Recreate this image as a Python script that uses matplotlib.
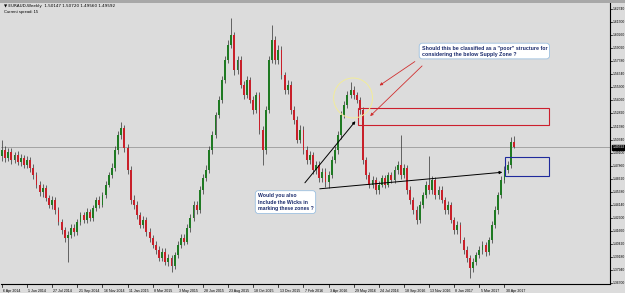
import matplotlib
matplotlib.use("Agg")
import matplotlib.pyplot as plt
from matplotlib.patches import Rectangle, Ellipse

# weekly EURAUD candles (bar 0 = 6 Apr 2014)
opens = [1.4880, 1.4935, 1.4859, 1.4916, 1.4840, 1.4888, 1.4821, 1.4859, 1.4793, 1.4840,
         1.4764, 1.4698, 1.4603, 1.4536, 1.4574, 1.4479, 1.4413, 1.4460, 1.4365, 1.4251,
         1.4175, 1.4099, 1.4128, 1.4194, 1.4156, 1.4251, 1.4318, 1.4270, 1.4346, 1.4289,
         1.4384, 1.4460, 1.4413, 1.4508, 1.4603, 1.4698, 1.4764, 1.4935, 1.5078, 1.5144,
         1.4954, 1.4745, 1.4460, 1.4413, 1.4318, 1.4223, 1.4270, 1.4156, 1.4099, 1.4033,
         1.3985, 1.3909, 1.3966, 1.3871, 1.3909, 1.3833, 1.3938, 1.4033, 1.4099, 1.4061,
         1.4194, 1.4289, 1.4413, 1.4365, 1.4555, 1.4669, 1.4745, 1.4935, 1.5078, 1.5268,
         1.5410, 1.5600, 1.5790, 1.5933, 1.6028, 1.5695, 1.5790, 1.5553, 1.5458, 1.5600,
         1.5410, 1.5315, 1.5458, 1.5125, 1.4935, 1.5315, 1.5790, 1.5980, 1.5790, 1.5885,
         1.5648, 1.5505, 1.5553, 1.5315, 1.5220, 1.5030, 1.5125, 1.4935, 1.4840, 1.4888,
         1.4745, 1.4793, 1.4669, 1.4726, 1.4631, 1.4698, 1.4840, 1.4935, 1.5078, 1.5268,
         1.5363, 1.5458, 1.5505, 1.5458, 1.5410, 1.5315, 1.4840, 1.4698, 1.4603, 1.4650,
         1.4555, 1.4603, 1.4669, 1.4603, 1.4698, 1.4650, 1.4745, 1.4793, 1.4698, 1.4764,
         1.4555, 1.4460, 1.4365, 1.4270, 1.4413, 1.4508, 1.4603, 1.4555, 1.4650, 1.4508,
         1.4555, 1.4460, 1.4365, 1.4413, 1.4270, 1.4175, 1.4223, 1.4080, 1.3985, 1.3909,
         1.3814, 1.3871, 1.3938, 1.3985, 1.4033, 1.3966, 1.4080, 1.4223, 1.4365, 1.4508,
         1.4650, 1.4745, 1.4793, 1.50147]
highs = [1.5030, 1.4970, 1.4950, 1.4950, 1.4920, 1.4930, 1.4900, 1.4890, 1.4880, 1.4870,
         1.4800, 1.4730, 1.4640, 1.4610, 1.4600, 1.4510, 1.4500, 1.4490, 1.4390, 1.4280,
         1.4200, 1.4170, 1.4230, 1.4230, 1.4280, 1.4350, 1.4350, 1.4380, 1.4370, 1.4410,
         1.4490, 1.4500, 1.4540, 1.4640, 1.4730, 1.4810, 1.4970, 1.5120, 1.5200, 1.5170,
         1.4990, 1.4780, 1.4510, 1.4450, 1.4350, 1.4310, 1.4300, 1.4190, 1.4130, 1.4070,
         1.4020, 1.4000, 1.4000, 1.3950, 1.3940, 1.3970, 1.4070, 1.4140, 1.4140, 1.4230,
         1.4330, 1.4450, 1.4450, 1.4590, 1.4710, 1.4790, 1.4970, 1.5120, 1.5300, 1.5450,
         1.5640, 1.5830, 1.5980, 1.6189, 1.6060, 1.5830, 1.5830, 1.5590, 1.5640, 1.5630,
         1.5450, 1.5490, 1.5490, 1.5160, 1.5350, 1.5830, 1.6123, 1.6020, 1.5930, 1.5920,
         1.5680, 1.5600, 1.5590, 1.5350, 1.5260, 1.5170, 1.5160, 1.4970, 1.4930, 1.4920,
         1.4830, 1.4830, 1.4760, 1.4760, 1.4740, 1.4880, 1.4970, 1.5120, 1.5310, 1.5400,
         1.5500, 1.5581, 1.5540, 1.5490, 1.5440, 1.5340, 1.4870, 1.4730, 1.4690, 1.4680,
         1.4640, 1.4700, 1.4700, 1.4730, 1.4730, 1.4780, 1.4830, 1.5078, 1.4800, 1.4790,
         1.4590, 1.4490, 1.4400, 1.4450, 1.4540, 1.4640, 1.4878, 1.4690, 1.4680, 1.4590,
         1.4590, 1.4490, 1.4450, 1.4440, 1.4300, 1.4260, 1.4250, 1.4110, 1.4020, 1.3940,
         1.3910, 1.3970, 1.4020, 1.4070, 1.4060, 1.4110, 1.4260, 1.4400, 1.4540, 1.4690,
         1.4780, 1.4830, 1.5058, 1.50720]
lows = [1.4830, 1.4820, 1.4830, 1.4800, 1.4810, 1.4790, 1.4780, 1.4760, 1.4760, 1.4730,
        1.4660, 1.4570, 1.4500, 1.4490, 1.4450, 1.4380, 1.4370, 1.4330, 1.4220, 1.4140,
        1.4060, 1.3871, 1.4100, 1.4120, 1.4130, 1.4220, 1.4240, 1.4240, 1.4260, 1.4260,
        1.4360, 1.4380, 1.4390, 1.4480, 1.4580, 1.4670, 1.4740, 1.4900, 1.5040, 1.4920,
        1.4710, 1.4420, 1.4370, 1.4280, 1.4190, 1.4190, 1.4120, 1.4060, 1.4000, 1.3950,
        1.3880, 1.3880, 1.3840, 1.3830, 1.3776, 1.3800, 1.3910, 1.4000, 1.4030, 1.4040,
        1.4160, 1.4260, 1.4330, 1.4340, 1.4520, 1.4640, 1.4720, 1.4900, 1.5050, 1.5240,
        1.5380, 1.5570, 1.5760, 1.5900, 1.5650, 1.5660, 1.5520, 1.5420, 1.5430, 1.5380,
        1.5280, 1.5290, 1.5090, 1.4793, 1.4900, 1.5290, 1.5760, 1.5750, 1.5750, 1.5610,
        1.5470, 1.5470, 1.5280, 1.5180, 1.5000, 1.5000, 1.4900, 1.4800, 1.4800, 1.4710,
        1.4710, 1.4630, 1.4630, 1.4580, 1.4570, 1.4670, 1.4810, 1.4900, 1.5040, 1.5240,
        1.5330, 1.5430, 1.5420, 1.5380, 1.5280, 1.4800, 1.4660, 1.4570, 1.4570, 1.4520,
        1.4520, 1.4580, 1.4570, 1.4580, 1.4620, 1.4620, 1.4710, 1.4660, 1.4670, 1.4520,
        1.4420, 1.4330, 1.4230, 1.4240, 1.4380, 1.4480, 1.4520, 1.4520, 1.4470, 1.4470,
        1.4430, 1.4330, 1.4330, 1.4240, 1.4140, 1.4140, 1.4050, 1.3950, 1.3870, 1.3719,
        1.3780, 1.3840, 1.3910, 1.3950, 1.3930, 1.3940, 1.4050, 1.4190, 1.4330, 1.4480,
        1.4620, 1.4720, 1.4760, 1.49560]
closes = [1.4935, 1.4859, 1.4916, 1.4840, 1.4888, 1.4821, 1.4859, 1.4793, 1.4840, 1.4764,
          1.4698, 1.4603, 1.4536, 1.4574, 1.4479, 1.4413, 1.4460, 1.4365, 1.4251, 1.4175,
          1.4099, 1.4128, 1.4194, 1.4156, 1.4251, 1.4318, 1.4270, 1.4346, 1.4289, 1.4384,
          1.4460, 1.4413, 1.4508, 1.4603, 1.4698, 1.4764, 1.4935, 1.5078, 1.5144, 1.4954,
          1.4745, 1.4460, 1.4413, 1.4318, 1.4223, 1.4270, 1.4156, 1.4099, 1.4033, 1.3985,
          1.3909, 1.3966, 1.3871, 1.3909, 1.3833, 1.3938, 1.4033, 1.4099, 1.4061, 1.4194,
          1.4289, 1.4413, 1.4365, 1.4555, 1.4669, 1.4745, 1.4935, 1.5078, 1.5268, 1.5410,
          1.5600, 1.5790, 1.5933, 1.6028, 1.5695, 1.5790, 1.5553, 1.5458, 1.5600, 1.5410,
          1.5315, 1.5458, 1.5125, 1.4935, 1.5315, 1.5790, 1.5980, 1.5790, 1.5885, 1.5648,
          1.5505, 1.5553, 1.5315, 1.5220, 1.5030, 1.5125, 1.4935, 1.4840, 1.4888, 1.4745,
          1.4793, 1.4669, 1.4726, 1.4631, 1.4698, 1.4840, 1.4935, 1.5078, 1.5268, 1.5363,
          1.5458, 1.5505, 1.5458, 1.5410, 1.5315, 1.4840, 1.4698, 1.4603, 1.4650, 1.4555,
          1.4603, 1.4669, 1.4603, 1.4698, 1.4650, 1.4745, 1.4793, 1.4698, 1.4764, 1.4555,
          1.4460, 1.4365, 1.4270, 1.4413, 1.4508, 1.4603, 1.4555, 1.4650, 1.4508, 1.4555,
          1.4460, 1.4365, 1.4413, 1.4270, 1.4175, 1.4223, 1.4080, 1.3985, 1.3909, 1.3814,
          1.3871, 1.3938, 1.3985, 1.4033, 1.3966, 1.4080, 1.4223, 1.4365, 1.4508, 1.4650,
          1.4745, 1.4793, 1.5010, 1.49592]

date_labels = ["6 Apr 2014", "1 Jun 2014", "27 Jul 2014", "21 Sep 2014", "16 Nov 2014",
               "11 Jan 2015", "8 Mar 2015", "3 May 2015", "28 Jun 2015", "23 Aug 2015",
               "18 Oct 2015", "13 Dec 2015", "7 Feb 2016", "3 Apr 2016", "29 May 2016",
               "24 Jul 2016", "18 Sep 2016", "13 Nov 2016", "8 Jan 2017", "5 Mar 2017",
               "30 Apr 2017"]
price_ticks = [1.36700, 1.37940, 1.39180, 1.40420, 1.41660, 1.42900, 1.44140, 1.45380,
               1.46620, 1.47860, 1.49100, 1.50340, 1.51580, 1.52820, 1.54060, 1.55300,
               1.56540, 1.57780, 1.59020, 1.60260, 1.61500, 1.62740]
last_price = 1.49592

bg = "#dcdcdc"
up_col = "#1f7a23"
dn_col = "#c8202a"
font = "Liberation Sans"

fig = plt.figure(figsize=(6.25, 2.93), dpi=100, facecolor=bg)
ax = fig.add_axes([0.0016, 0.0307, 0.9744, 0.9591], facecolor=bg)
ax.set_xlim(-0.3, 193.6)
ax.set_ylim(1.3662, 1.63315)

# candles
for i in range(len(closes)):
    o, h, l, c = opens[i], highs[i], lows[i], closes[i]
    col = up_col if c >= o else dn_col
    ax.vlines(i, l, h, color="#303030", lw=0.5, zorder=2)
    ax.bar(i, max(abs(c - o), 0.0006), bottom=min(o, c), width=0.6,
           color=col, edgecolor="none", zorder=3)

# current price line
ax.axhline(last_price, color="#9a9a9a", lw=0.6, zorder=1)

# frame: only right and bottom axis lines like MT4
for s in ["top", "left"]:
    ax.spines[s].set_visible(False)
for s in ["right", "bottom"]:
    ax.spines[s].set_color("black")
    ax.spines[s].set_linewidth(0.8)
ax.set_xticks([])
ax.set_yticks([])

# price scale on the right
ytr = ax.get_yaxis_transform()
for p in price_ticks:
    ax.plot([1.0, 1.004], [p, p], transform=ytr, color="black", lw=0.5, clip_on=False)
    ax.text(1.0045, p, "%.5f" % p, transform=ytr, fontsize=2.45, family=font,
            va="center", ha="left", clip_on=False)
ax.text(1.0045, last_price, "1.49592", transform=ytr, fontsize=2.45, family=font,
        va="center", ha="left", color="white", clip_on=False,
        bbox=dict(boxstyle="square,pad=0.2", fc="black", ec="black"))

# date scale
xtr = ax.get_xaxis_transform()
for k, lab in enumerate(date_labels):
    xi = k * 8
    ax.plot([xi, xi], [0, -0.012], transform=xtr, color="black", lw=0.5, clip_on=False)
    ax.text(xi + 0.4, -0.018, lab, transform=xtr, fontsize=2.6, family=font,
            va="top", ha="left", clip_on=False)

# header
fig.patches.append(Rectangle((0, 0.99), 1, 0.01, transform=fig.transFigure,
                             fc="#a8a8a8", ec="none"))
fig.text(0.006, 0.978, "\u25bc EURAUD,Weekly  1.50147 1.50720 1.49560 1.49592",
         fontsize=3.0, family=["DejaVu Sans"], va="center", ha="left")
fig.text(0.006, 0.958, "Current spread: 15", fontsize=3.0, family=font,
         va="center", ha="left")

# supply zone and demand zone boxes
ax.add_patch(Rectangle((113.4, 1.5173), 60.8, 0.0161, fill=False,
                       ec="#cc1f2d", lw=0.8, zorder=4))
ax.add_patch(Rectangle((160.2, 1.4688), 14.0, 0.0181, fill=False,
                       ec="#1f2a9c", lw=0.8, zorder=4))
ax.add_patch(Ellipse((111.8, 1.5429), 12.4, 0.038, fill=False,
                     ec="#f2ec9a", lw=0.7, zorder=4))

# black arrows
ax.annotate("", xy=(113.1, 1.5229), xytext=(95.9, 1.4603),
            arrowprops=dict(arrowstyle="-|>", color="black", lw=0.7,
                            mutation_scale=4), zorder=5)
ax.annotate("", xy=(160.2, 1.4726), xytext=(100.3, 1.4564),
            arrowprops=dict(arrowstyle="-|>", color="black", lw=0.7,
                            mutation_scale=4), zorder=5)
# red arrows
ax.annotate("", xy=(119.5, 1.5533), xytext=(132.2, 1.5790),
            arrowprops=dict(arrowstyle="-|>", color="#d03030", lw=0.6,
                            mutation_scale=4), zorder=5)
ax.annotate("", xy=(116.6, 1.5239), xytext=(134.4, 1.5752),
            arrowprops=dict(arrowstyle="-|>", color="#d03030", lw=0.6,
                            mutation_scale=4), zorder=5)

# callout boxes
ax.text(133.6, 1.5875,
        'Should this be classified as a "poor" structure for\nconsidering the below Supply Zone ?',
        fontsize=3.75, family=font, weight="bold", color="#1a2a6c",
        va="center", ha="left", linespacing=1.25, zorder=6,
        bbox=dict(boxstyle="round,pad=0.45,rounding_size=0.6",
                  fc="white", ec="#9cc0e0", lw=0.6))
ax.text(81.4, 1.4440,
        "Would you also\nInclude the Wicks in\nmarking these zones ?",
        fontsize=3.7, family=font, weight="bold", color="#1a2a6c",
        va="center", ha="left", linespacing=1.4, zorder=6,
        bbox=dict(boxstyle="round,pad=0.45,rounding_size=0.6",
                  fc="white", ec="#9cc0e0", lw=0.6))

fig.savefig("out.png", dpi=100, facecolor=bg)
